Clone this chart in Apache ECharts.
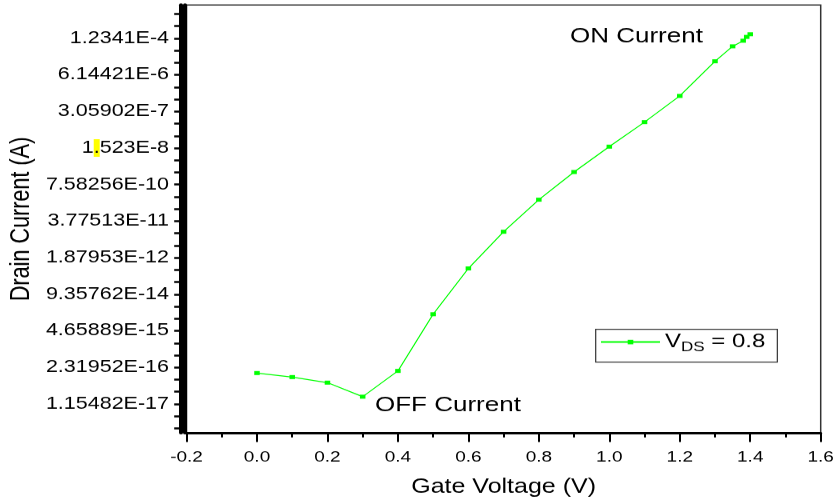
<!DOCTYPE html>
<html>
<head>
<meta charset="utf-8">
<script src="https://cdn.jsdelivr.net/npm/echarts@6/dist/echarts.min.js"></script>
<style>
  html, body { margin: 0; padding: 0; background: #fff; overflow: hidden; }
  #wrap { width: 838px; height: 504px; overflow: hidden; }
  /* drawn taller, then pressed to the page height */
  #chart { width: 838px; height: 630px; transform: scaleY(0.8); transform-origin: 0 0; }
</style>
</head>
<body>
<div id="wrap"><div id="chart"></div></div>
<script>
// Transfer curve, V_DS = 0.8 V
const gateVoltage = [0.0, 0.1, 0.2, 0.3, 0.4, 0.5, 0.6, 0.7, 0.8, 0.9, 1.0, 1.1, 1.2, 1.3, 1.35, 1.38, 1.39, 1.40];
const drainCurrent = [1.46e-16, 1.05e-16, 6.65e-17, 2.10e-17, 1.74e-16, 1.82e-14, 7.80e-13, 1.58e-11,
                      2.19e-10, 2.12e-9, 1.70e-8, 1.27e-7, 1.09e-6, 1.87e-5, 6.38e-5, 1.01e-4, 1.38e-4, 1.72e-4];

// Labelled ticks of the natural-log current axis (one every e^3)
const yTickLabels = ['1.15482E-17', '2.31952E-16', '4.65889E-15', '9.35762E-14', '1.87953E-12',
                     '3.77513E-11', '7.58256E-10', '1.523E-8', '3.05902E-7', '6.14421E-6', '1.2341E-4'];
const seriesName = 'V_DS = 0.8';
const onLabel = 'ON Current';
const offLabel = 'OFF Current';
const xTitle = 'Gate Voltage (V)';
const yTitle = 'Drain Current (A)';

const FONT = '"Liberation Sans", Arial, Helvetica, sans-serif';
const yMin = Math.exp(-41.37);
const yMax = Math.exp(-6.27);
const majorVals = yTickLabels.map(Number);
const minorVals = [];
for (let n = -41; n <= -7; n++) minorVals.push(Math.exp(n));

function yLabel(v) {
  const lv = Math.log(v);
  let best = yTickLabels[0], d = Infinity;
  yTickLabels.forEach(function (s) {
    const e = Math.abs(Math.log(Number(s)) - lv);
    if (e < d) { d = e; best = s; }
  });
  if (best === '1.523E-8') return '1{hl|.}523E-8';
  return best;
}

const plotBox = { left: 182.7, right: 17.3, top: 6.25, bottom: 88.9 };

const chart = echarts.init(document.getElementById('chart'), null, { renderer: 'canvas' });
chart.setOption({
  animation: false,
  backgroundColor: '#fff',
  textStyle: { fontFamily: FONT, color: '#000' },
  grid: [
    Object.assign({ show: true, borderColor: '#333', borderWidth: 1.5, backgroundColor: 'transparent' }, plotBox),
    // second frame, same box: carries the unlabelled minor ticks of the current axis
    Object.assign({ show: false }, plotBox)
  ],
  xAxis: [{
    type: 'value', gridIndex: 0,
    min: -0.2, max: 1.6, interval: 0.2,
    name: xTitle, nameLocation: 'middle', nameGap: 56,
    nameTextStyle: { fontSize: 25, color: '#000', fontFamily: FONT },
    axisLine: { show: true, onZero: false, lineStyle: { color: '#000', width: 3 } },
    axisTick: { show: true, length: 11.5, lineStyle: { color: '#000', width: 2 } },
    minorTick: { show: true, splitNumber: 2, length: 5.6, lineStyle: { color: '#000', width: 2 } },
    splitLine: { show: false },
    axisLabel: {
      fontSize: 19, margin: 21, color: '#000', fontFamily: FONT,
      formatter: function (v) { return Math.abs(v) < 1e-9 ? '0.0' : v.toFixed(1); }
    }
  }, {
    type: 'value', gridIndex: 1, min: -0.2, max: 1.6, show: false
  }],
  yAxis: [{
    type: 'log', logBase: Math.E, gridIndex: 0,
    min: yMin, max: yMax, offset: 1.5, position: 'left',
    name: yTitle, nameLocation: 'middle', nameGap: 144,
    nameTextStyle: { fontSize: 27, color: '#000', fontFamily: FONT },
    axisLine: { show: true, onZero: false, lineStyle: { color: '#000', width: 4 } },
    axisTick: { show: true, length: 10, customValues: majorVals, lineStyle: { color: '#000', width: 2.5 } },
    splitLine: { show: false },
    axisLabel: {
      fontSize: 21.5, margin: 16, color: '#000', fontFamily: FONT,
      customValues: majorVals,
      formatter: yLabel,
      rich: { hl: { backgroundColor: '#ffff00', fontSize: 21.5, lineHeight: 24, color: '#000', fontFamily: FONT } }
    }
  }, {
    type: 'log', logBase: Math.E, gridIndex: 1,
    min: yMin, max: yMax, offset: 1.5, position: 'left',
    axisLine: { show: true, onZero: false, lineStyle: { color: '#000', width: 4 } },
    axisTick: { show: true, length: 7, customValues: minorVals, lineStyle: { color: '#000', width: 2.5 } },
    axisLabel: { show: false },
    splitLine: { show: false }
  }],
  legend: {
    data: [seriesName],
    left: 595.7, top: 411.6,
    orient: 'vertical',
    padding: [4, 12, 10, 4.3],
    borderColor: '#333', borderWidth: 1.2, backgroundColor: '#fff',
    itemWidth: 59, itemHeight: 7,
    formatter: function () { return '{v|V}{s|DS}{v| = 0.8}'; },
    textStyle: {
      color: '#000', fontFamily: FONT,
      rich: {
        v: { fontSize: 24, lineHeight: 30, color: '#000', fontFamily: FONT },
        s: { fontSize: 17, lineHeight: 12, verticalAlign: 'bottom', color: '#000', fontFamily: FONT }
      }
    }
  },
  series: [{
    name: seriesName,
    type: 'line',
    xAxisIndex: 0, yAxisIndex: 0,
    data: gateVoltage.map(function (v, i) { return [v, drainCurrent[i]]; }),
    symbol: 'rect', symbolSize: [5.5, 5],
    itemStyle: { color: '#00ff00' },
    lineStyle: { color: '#00ff00', width: 1.2 },
    emphasis: { disabled: true }
  }],
  graphic: [{
    type: 'text', x: 570, y: 46.3,
    style: { text: onLabel, fontSize: 26, fontFamily: FONT, fill: '#000',
             align: 'left', verticalAlign: 'middle', textAlign: 'left', textVerticalAlign: 'middle' }
  }, {
    type: 'text', x: 375, y: 507.2,
    style: { text: offLabel, fontSize: 26, fontFamily: FONT, fill: '#000',
             align: 'left', verticalAlign: 'middle', textAlign: 'left', textVerticalAlign: 'middle' }
  }]
});
</script>
</body>
</html>
